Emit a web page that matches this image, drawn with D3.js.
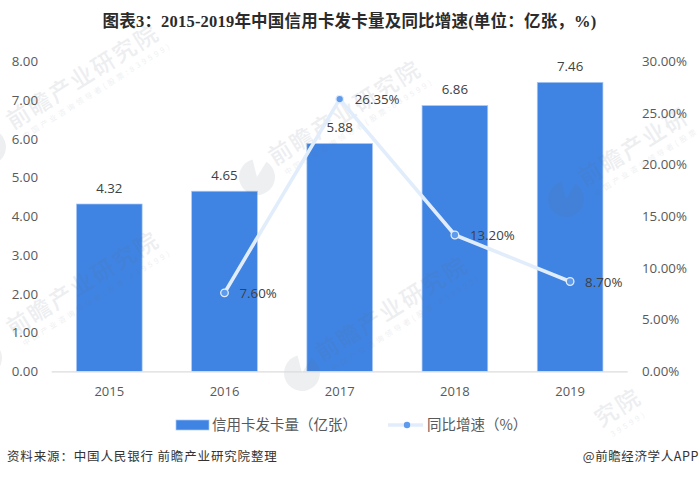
<!DOCTYPE html>
<html><head><meta charset="utf-8">
<script src="https://cdn.jsdelivr.net/npm/d3@7"></script>
<style>html,body{margin:0;padding:0;background:#fff}svg{display:block}</style>
</head><body><svg id="c" width="700" height="477"></svg>
<script>
const years = ["2015","2016","2017","2018","2019"];
const cards = [4.32,4.65,5.88,6.86,7.46];
const growth = [null,7.60,26.35,13.20,8.70];
const leftTicks = [0,1,2,3,4,5,6,7,8];
const rightTicks = [0,5,10,15,20,25,30];
const titleText = "图表3：2015-2019年中国信用卡发卡量及同比增速(单位：亿张，%)";
const sourceText = "资料来源：中国人民银行 前瞻产业研究院整理";
const creditText = "@前瞻经济学人APP";
const legendBar = "信用卡发卡量（亿张）";
const legendLine = "同比增速（%）";
const wmName = "前瞻产业研究院";
const wmSub = "中国产业咨询领导者(股票:839599)";

const FONT = "'Open Sans','Noto Sans CJK SC',sans-serif";
const CJK = "'Noto Sans CJK SC',sans-serif";
const WM = "#5a6a80";
const svg = d3.select("#c");
const x = d3.scaleBand().domain(years).range([51.7,627.7]).paddingInner(0.43).paddingOuter(0.215);
const yL = d3.scaleLinear().domain([0,8]).range([371.4,61.4]);
const yR = d3.scaleLinear().domain([0,30]).range([371.4,61.4]);

// bars
svg.append("g").selectAll("rect").data(cards).join("rect")
  .attr("x",(d,i)=>x(years[i])).attr("y",d=>yL(d))
  .attr("width",x.bandwidth()).attr("height",d=>yL(0)-yL(d))
  .attr("fill","#4084e3").attr("stroke","#a9c9f3").attr("stroke-width",0.7);

// watermarks
const wmG = svg.append("g");
const logoArc = d3.arc().innerRadius(0).outerRadius(18).startAngle(0.55).endAngle(2*Math.PI-0.25);
[
  {tx:13,ty:130,n0:0,n1:7,s0:0,s1:99,sx:5,lx:-12,ly:147},
  {tx:275,ty:166,n0:0,n1:7,s0:0,s1:99,sx:5,lx:257,ly:177},
  {tx:585,ty:187,n0:0,n1:5,s0:0,s1:12,sx:5,lx:566,ly:199},
  {tx:13,ty:337,n0:0,n1:7,s0:0,s1:99,sx:5,lx:-16,ly:358},
  {tx:322,ty:362,n0:0,n1:7,s0:0,s1:99,sx:5,lx:302,ly:373},
  {tx:495,ty:494,n0:5,n1:7,s0:14,s1:99,sx:130}
].forEach(w=>{
  if(w.lx!==undefined){
    wmG.append("path").attr("transform",`translate(${w.lx},${w.ly})`).attr("d",logoArc()).attr("fill",WM).attr("opacity",0.11);
  }
  const g = wmG.append("g").attr("transform",`translate(${w.tx},${w.ty}) rotate(-32)`);
  g.append("text").text(wmName.slice(w.n0,w.n1)).attr("x",w.n0*25).attr("font-family",CJK).attr("font-size",23).attr("letter-spacing",2).attr("font-weight",500)
    .attr("fill",WM).attr("opacity",0.11);
  g.append("text").text(wmSub.slice(w.s0,w.s1)).attr("x",w.sx).attr("y",14).attr("font-family",CJK).attr("font-size",7.5)
    .attr("letter-spacing",3).attr("fill",WM).attr("opacity",0.10);
});

// baseline
svg.append("line").attr("x1",51.7).attr("x2",627.7).attr("y1",yL(0)+0.4).attr("y2",yL(0)+0.4).attr("stroke","#dcdcdc").attr("stroke-width",1.3);

// axes
const axL = svg.append("g").attr("transform","translate(38,0)").call(d3.axisLeft(yL).tickValues(leftTicks).tickFormat(d3.format(".2f")).tickSize(0).tickPadding(0));
const axR = svg.append("g").attr("transform","translate(642,0)").call(d3.axisRight(yR).tickValues(rightTicks).tickFormat(d=>d3.format(".2f")(d)+"%").tickSize(0).tickPadding(0));
const axB = svg.append("g").attr("transform","translate(0,392)").call(d3.axisBottom(x).tickSize(0).tickPadding(0));
[axL,axR,axB].forEach(a=>{a.select(".domain").remove();a.selectAll("text").attr("font-family",FONT).attr("font-size",13.3).attr("fill","#595959");});
axB.selectAll("text").attr("dy","0.32em").attr("y",0).attr("font-size",13);

// line
const cx = i=>x(years[i])+x.bandwidth()/2;
const pts = growth.map((v,i)=>({v,i})).filter(d=>d.v!==null);
const line = d3.line().x(d=>cx(d.i)).y(d=>yR(d.v));
svg.append("path").attr("d",line(pts)).attr("fill","none").attr("stroke","#e2edfc").attr("stroke-width",3.6).attr("stroke-linejoin","round");
svg.append("g").selectAll("circle").data(pts).join("circle")
  .attr("cx",d=>cx(d.i)).attr("cy",d=>yR(d.v)).attr("r",3.8)
  .attr("fill","#5f9bec").attr("stroke","#e2edfc").attr("stroke-width",1.3);

// bar labels
svg.append("g").selectAll("text").data(cards).join("text")
  .attr("x",(d,i)=>cx(i)).attr("y",d=>yL(d)-11.5).attr("text-anchor","middle")
  .attr("font-family",FONT).attr("font-size",13.3).attr("fill","#404040").text(d=>d.toFixed(2));
// line labels
svg.append("g").selectAll("text").data(pts).join("text")
  .attr("x",d=>cx(d.i)+15).attr("y",d=>yR(d.v)+5).attr("font-family",FONT).attr("font-size",13.3)
  .attr("fill","#404040").text(d=>d.v.toFixed(2)+"%");

// title
svg.append("text").attr("x",349.5).attr("y",27).attr("text-anchor","middle").attr("font-family","'Liberation Serif','Noto Sans CJK SC',serif")
  .attr("font-weight",700).attr("font-size",16.5).attr("letter-spacing",0.2).attr("fill","#2b2b2b").text(titleText);

// legend
svg.append("rect").attr("x",176).attr("y",420).attr("width",33).attr("height",10).attr("fill","#4084e3").attr("stroke","#a9c9f3").attr("stroke-width",0.7);
svg.append("text").attr("x",212).attr("y",430).attr("font-family",CJK).attr("font-size",14.5).attr("fill","#595959").text(legendBar);
svg.append("line").attr("x1",388).attr("x2",423).attr("y1",425).attr("y2",425).attr("stroke","#e2edfc").attr("stroke-width",3.6);
svg.append("circle").attr("cx",407).attr("cy",425).attr("r",3.2).attr("fill","#5f9bec");
svg.append("text").attr("x",427).attr("y",430).attr("font-family",CJK).attr("font-size",14.5).attr("fill","#595959").text(legendLine);

// footer
svg.append("text").attr("x",7).attr("y",461).attr("font-family",CJK).attr("font-size",12.5).attr("letter-spacing",0.85).attr("fill","#333").text(sourceText);
svg.append("text").attr("x",699).attr("y",461).attr("text-anchor","end").attr("font-family",CJK).attr("font-size",12.5).attr("letter-spacing",0.6).attr("fill","#333").text(creditText);
</script></body></html>
